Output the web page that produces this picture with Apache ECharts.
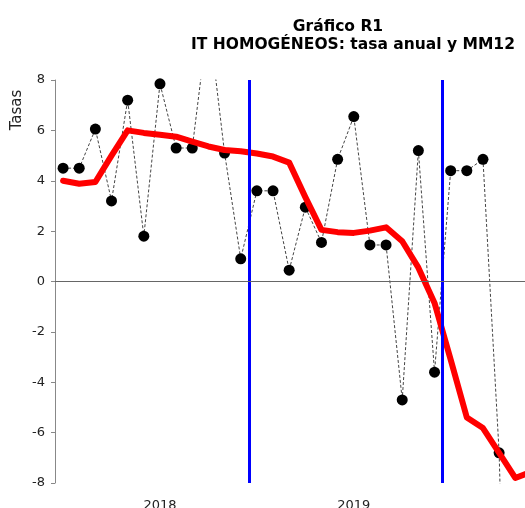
<!DOCTYPE html>
<html>
<head>
<meta charset="utf-8">
<script src="https://cdn.jsdelivr.net/npm/echarts@6/dist/echarts.min.js"></script>
<style>
  html, body { margin: 0; padding: 0; background: #fff; }
  #chart { width: 525px; height: 508px; }
</style>
</head>
<body>
<div id="chart"></div>
<script>
  // monthly categories (only two year labels are shown)
  const months = [
    '2018-01', '2018-02', '2018-03', '2018-04', '2018-05', '2018-06',
    '2018-07', '2018-08', '2018-09', '2018-10', '2018-11', '2018-12',
    '2019-01', '2019-02', '2019-03', '2019-04', '2019-05', '2019-06',
    '2019-07', '2019-08', '2019-09', '2019-10', '2019-11', '2019-12',
    '2020-01', '2020-02', '2020-03', '2020-04', '2020-05', '2020-06'
  ];
  const yearLabels = { '2018-07': '2018', '2019-07': '2019' };

  // tasa anual (dots, dashed)
  const tasaAnual = [
    4.5, 4.5, 6.05, 3.2, 7.2, 1.8, 7.85, 5.3, 5.3, 10.5, 5.1, 0.9,
    3.6, 3.6, 0.45, 2.95, 1.55, 4.85, 6.55, 1.45, 1.45, -4.7, 5.2, -3.6,
    4.4, 4.4, 4.85, -6.8, -30
  ];

  // media móvil 12 meses (red)
  const mm12 = [
    4.0, 3.88, 3.95, 5.0, 6.0, 5.9, 5.83, 5.75, 5.55, 5.36, 5.22, 5.17,
    5.08, 4.96, 4.72, 3.35, 2.05, 1.96, 1.93, 2.02, 2.15, 1.6, 0.55, -0.85,
    -3.1, -5.4, -5.82, -6.8, -7.8, -7.55
  ];

  // year separators, between Dec and Jan
  const separators = [11.5, 23.5];

  const chart = echarts.init(document.getElementById('chart'));
  const FONT = 'DejaVu Sans';

  chart.setOption({
    animation: false,
    textStyle: { fontFamily: FONT },
    title: [
      {
        text: 'Gráfico R1',
        left: 333,
        top: 14,
        textAlign: 'center',
        textStyle: { fontSize: 15.5, fontWeight: 'bold', color: '#000', fontFamily: FONT }
      },
      {
        text: 'IT HOMOGÉNEOS: tasa anual y MM12',
        left: 348,
        top: 32,
        textAlign: 'center',
        textStyle: { fontSize: 15.5, fontWeight: 'bold', color: '#000', fontFamily: FONT }
      }
    ],
    // y axis title, vertical, reading upwards
    graphic: [
      {
        type: 'group',
        x: 17.5,
        y: 110,
        rotation: Math.PI / 2,
        children: [
          {
            type: 'text',
            x: 0,
            y: 0,
            style: {
              text: 'Tasas',
              fontSize: 15,
              fontFamily: FONT,
              fill: '#222',
              align: 'center',
              verticalAlign: 'middle'
            }
          }
        ]
      }
    ],
    grid: {
      left: 55, top: 80, bottom: 25, right: -14.5,
      containLabel: false,
      outerBoundsMode: 'none'
    },
    xAxis: [
      {
        type: 'category',
        data: months,
        boundaryGap: true,
        axisLine: { show: false },
        axisTick: { show: false },
        splitLine: { show: false },
        axisLabel: {
          interval: 0,
          margin: 16,
          fontSize: 13,
          color: '#222',
          formatter: v => yearLabels[v] || ''
        }
      },
      {
        type: 'value',
        min: -0.5,
        max: months.length - 0.5,
        show: false
      }
    ],
    yAxis: {
      type: 'value',
      min: -8,
      max: 8,
      interval: 2,
      axisLine: { show: true, onZero: false, lineStyle: { color: '#888', width: 1 } },
      axisTick: { show: true, length: 4, lineStyle: { color: '#888' } },
      splitLine: { show: false },
      axisLabel: { fontSize: 13, color: '#222', margin: 10 }
    },
    series: [
      {
        name: 'sep',
        type: 'line',
        xAxisIndex: 1,
        data: [],
        z: 1,
        markLine: {
          silent: true,
          symbol: 'none',
          label: { show: false },
          lineStyle: { color: '#0000ff', width: 3, type: 'solid' },
          data: separators.map(x => ({ xAxis: x }))
        }
      },
      {
        name: 'cero',
        type: 'line',
        data: [],
        z: 1,
        markLine: {
          silent: true,
          symbol: 'none',
          label: { show: false },
          lineStyle: { color: '#666', width: 1, type: 'solid' },
          data: [{ yAxis: 0 }]
        }
      },
      {
        name: 'Tasa anual',
        type: 'line',
        data: tasaAnual,
        z: 3,
        symbol: 'circle',
        symbolSize: 11,
        itemStyle: { color: '#000' },
        lineStyle: { color: '#444', width: 1, type: [3, 2] }
      },
      {
        name: 'MM12',
        type: 'line',
        data: mm12,
        z: 4,
        showSymbol: false,
        symbol: 'none',
        lineStyle: { color: '#ff0000', width: 6, join: 'round', cap: 'round' }
      }
    ]
  });
</script>
</body>
</html>
